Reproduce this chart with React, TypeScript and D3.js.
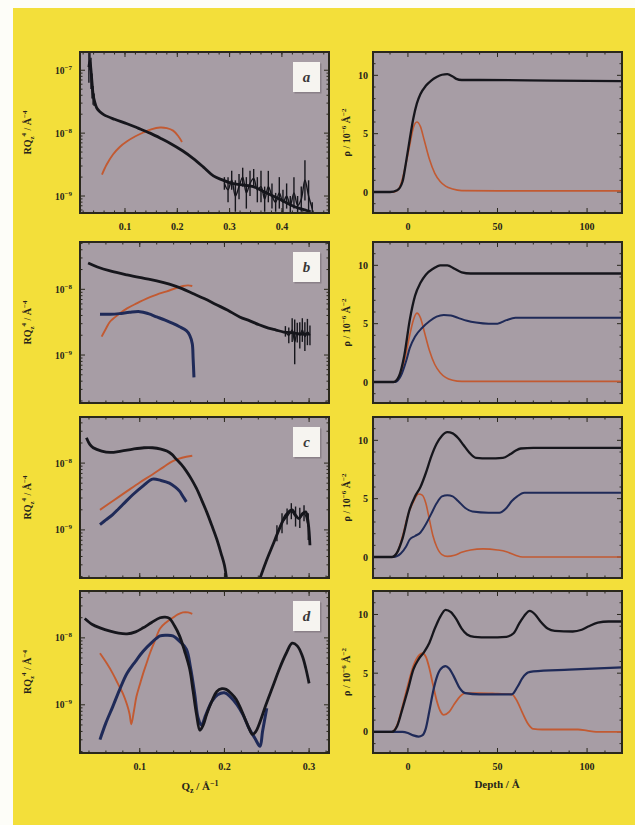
import { useEffect, useRef } from 'react';
import * as d3 from 'd3';

type Pt = [number, number];
type Err = [number, number, number];

// ---- reflectivity data: [Qz, log10(RQz^4)] ----
const aSpike: Err[] = [[0.031, -6.95, 0.25], [0.033, -6.85, 0.15], [0.035, -7.05, 0.25], [0.037, -7.25, 0.2], [0.039, -7.4, 0.15], [0.041, -7.47, 0.1]];
const aBlack: Pt[] = [[0.031, -6.95], [0.033, -6.85], [0.036, -7.1], [0.039, -7.38], [0.042, -7.5], [0.046, -7.6], [0.052, -7.66], [0.06, -7.71], [0.08, -7.78], [0.104, -7.85], [0.125, -7.92], [0.148, -8.0], [0.17, -8.09], [0.186, -8.16], [0.21, -8.28], [0.23, -8.4], [0.25, -8.54], [0.269, -8.68], [0.285, -8.74], [0.301, -8.79], [0.32, -8.82], [0.345, -8.85], [0.365, -8.93], [0.383, -9.0], [0.405, -9.09], [0.421, -9.16], [0.435, -9.2], [0.447, -9.23], [0.455, -9.25]];
const aNoise: Err[] = [[0.29, -8.8, 0.1], [0.297, -8.9, 0.2], [0.304, -8.75, 0.15], [0.311, -9.0, 0.25], [0.318, -8.85, 0.2], [0.325, -8.7, 0.15], [0.332, -8.95, 0.25], [0.339, -8.8, 0.2], [0.346, -8.72, 0.15], [0.353, -8.9, 0.2], [0.36, -8.85, 0.25], [0.367, -9.05, 0.2], [0.374, -8.85, 0.25], [0.381, -9.0, 0.2], [0.388, -9.1, 0.15], [0.395, -8.95, 0.25], [0.402, -9.1, 0.2], [0.409, -9.0, 0.2], [0.416, -9.15, 0.15], [0.423, -8.95, 0.25], [0.43, -9.15, 0.15], [0.437, -9.05, 0.2], [0.444, -8.75, 0.32], [0.451, -9.0, 0.25], [0.458, -9.2, 0.1]];
const aRed: Pt[] = [[0.056, -8.66], [0.065, -8.5], [0.077, -8.34], [0.09, -8.22], [0.104, -8.13], [0.12, -8.05], [0.135, -7.99], [0.15, -7.94], [0.167, -7.91], [0.18, -7.92], [0.192, -7.96], [0.202, -8.05], [0.209, -8.14]];

const bBlack: Pt[] = [[0.039, -7.6], [0.05, -7.66], [0.065, -7.72], [0.085, -7.78], [0.104, -7.83], [0.12, -7.87], [0.135, -7.92], [0.15, -7.99], [0.162, -8.06], [0.176, -8.14], [0.19, -8.23], [0.204, -8.32], [0.218, -8.42], [0.23, -8.48], [0.241, -8.54], [0.252, -8.59], [0.261, -8.62], [0.27, -8.65], [0.28, -8.66], [0.29, -8.68], [0.3, -8.68]];
const bNoise: Err[] = [[0.272, -8.64, 0.08], [0.276, -8.7, 0.12], [0.28, -8.62, 0.18], [0.283, -8.8, 0.34], [0.286, -8.66, 0.15], [0.289, -8.7, 0.2], [0.292, -8.62, 0.18], [0.295, -8.72, 0.22], [0.298, -8.65, 0.2], [0.301, -8.7, 0.15]];
const bRed: Pt[] = [[0.055, -8.72], [0.06, -8.6], [0.065, -8.49], [0.075, -8.38], [0.085, -8.29], [0.097, -8.21], [0.108, -8.14], [0.12, -8.08], [0.132, -8.03], [0.143, -7.98], [0.151, -7.95], [0.157, -7.94], [0.162, -7.95]];
const bBlue: Pt[] = [[0.053, -8.38], [0.065, -8.38], [0.076, -8.37], [0.088, -8.35], [0.1, -8.34], [0.11, -8.37], [0.12, -8.42], [0.13, -8.47], [0.139, -8.52], [0.147, -8.57], [0.155, -8.63], [0.159, -8.7], [0.162, -8.83], [0.163, -9.05], [0.164, -9.34]];

const cBlack1: Pt[] = [[0.037, -7.62], [0.041, -7.72], [0.045, -7.77], [0.055, -7.82], [0.065, -7.84], [0.078, -7.82], [0.092, -7.79], [0.105, -7.77], [0.115, -7.77], [0.125, -7.79], [0.132, -7.82], [0.138, -7.87], [0.143, -7.94], [0.149, -8.02], [0.155, -8.12], [0.161, -8.24], [0.167, -8.38], [0.173, -8.55], [0.179, -8.73], [0.185, -8.93], [0.191, -9.14], [0.196, -9.35], [0.2, -9.53], [0.203, -9.78]];
const cBlack2: Pt[] = [[0.241, -9.76], [0.249, -9.48], [0.257, -9.23], [0.265, -8.98], [0.273, -8.77], [0.28, -8.7], [0.284, -8.78], [0.288, -8.83], [0.292, -8.76], [0.296, -8.73], [0.299, -8.9], [0.301, -9.23]];
const cNoise: Err[] = [[0.262, -9.05, 0.12], [0.268, -8.9, 0.15], [0.274, -8.8, 0.12], [0.279, -8.72, 0.12], [0.284, -8.8, 0.15], [0.289, -8.82, 0.15], [0.294, -8.75, 0.12], [0.299, -8.95, 0.2]];
const cRed: Pt[] = [[0.053, -8.7], [0.069, -8.56], [0.085, -8.42], [0.1, -8.29], [0.115, -8.17], [0.128, -8.06], [0.139, -7.97], [0.15, -7.92], [0.162, -7.89]];
const cBlue: Pt[] = [[0.053, -8.92], [0.06, -8.85], [0.068, -8.77], [0.08, -8.62], [0.092, -8.47], [0.104, -8.34], [0.115, -8.24], [0.125, -8.26], [0.135, -8.3], [0.142, -8.36], [0.147, -8.42], [0.151, -8.5], [0.155, -8.58]];

const dBlack: Pt[] = [[0.035, -7.71], [0.044, -7.8], [0.053, -7.85], [0.065, -7.9], [0.075, -7.93], [0.085, -7.94], [0.095, -7.91], [0.104, -7.85], [0.114, -7.77], [0.124, -7.7], [0.13, -7.69], [0.135, -7.71], [0.141, -7.82], [0.147, -7.97], [0.153, -8.2], [0.159, -8.47], [0.163, -8.8], [0.167, -9.14], [0.171, -9.38], [0.175, -9.3], [0.179, -9.14], [0.185, -8.95], [0.191, -8.8], [0.197, -8.76], [0.202, -8.77], [0.208, -8.83], [0.214, -8.92], [0.22, -9.08], [0.225, -9.23], [0.229, -9.35], [0.233, -9.44], [0.237, -9.4], [0.241, -9.29], [0.249, -9.0], [0.257, -8.73], [0.265, -8.46], [0.273, -8.23], [0.28, -8.08], [0.286, -8.12], [0.292, -8.27], [0.296, -8.45], [0.3, -8.68]];
const dBlue: Pt[] = [[0.053, -9.52], [0.06, -9.27], [0.068, -9.03], [0.076, -8.78], [0.085, -8.53], [0.095, -8.35], [0.104, -8.2], [0.114, -8.07], [0.124, -7.97], [0.132, -7.96], [0.139, -7.97], [0.147, -8.05], [0.155, -8.17], [0.16, -8.45], [0.165, -8.85], [0.169, -9.2], [0.173, -9.3], [0.178, -9.15], [0.185, -8.95], [0.192, -8.85], [0.2, -8.82], [0.207, -8.88], [0.215, -9.0], [0.222, -9.15], [0.229, -9.35], [0.236, -9.5], [0.242, -9.62], [0.245, -9.4], [0.25, -9.05]];
const dRed: Pt[] = [[0.053, -8.23], [0.061, -8.38], [0.068, -8.53], [0.074, -8.68], [0.08, -8.83], [0.085, -9.0], [0.088, -9.14], [0.09, -9.29], [0.093, -9.1], [0.096, -8.88], [0.1, -8.7], [0.104, -8.53], [0.108, -8.38], [0.112, -8.23], [0.118, -8.04], [0.124, -7.86], [0.131, -7.77], [0.139, -7.7], [0.145, -7.65], [0.151, -7.62], [0.157, -7.62], [0.162, -7.64]];

// ---- SLD profiles: [depth / Å, rho / 1e-6 Å^-2] ----
const raBlack: Pt[] = [[-19.5, 0], [-10, 0], [-6, 0.15], [-3, 0.9], [-1, 2.6], [1, 4.5], [3, 6.3], [5, 7.6], [7, 8.4], [10, 9.1], [13, 9.55], [16, 9.85], [19, 10.05], [22, 10.1], [25, 9.9], [27, 9.7], [30, 9.6], [40, 9.6], [80, 9.55], [119.5, 9.5]];
const raRed: Pt[] = [[-19.5, 0], [-8, 0], [-5, 0.3], [-2, 1.8], [1, 4.0], [3, 5.5], [5, 6.0], [7, 5.6], [9, 4.5], [12, 2.8], [15, 1.6], [18, 0.9], [21, 0.5], [25, 0.25], [30, 0.12], [50, 0.1], [119.5, 0.1]];

const rbBlack: Pt[] = [[-19.5, 0], [-8, 0], [-5, 0.5], [-2, 2.3], [1, 5.3], [4, 7.4], [7, 8.5], [10, 9.2], [14, 9.7], [18, 10.0], [22, 10.0], [26, 9.7], [30, 9.4], [35, 9.3], [119.5, 9.3]];
const rbBlue: Pt[] = [[-19.5, 0], [-7, 0], [-4, 0.5], [-1, 1.8], [1, 2.9], [4, 3.9], [8, 4.65], [12, 5.2], [16, 5.6], [20, 5.75], [24, 5.7], [28, 5.5], [33, 5.25], [38, 5.1], [45, 5.0], [50, 5.0], [55, 5.3], [60, 5.5], [119.5, 5.5]];
const rbRed: Pt[] = [[-19.5, 0], [-8, 0], [-5, 0.3], [-2, 1.8], [1, 4.0], [3, 5.3], [5, 5.9], [7, 5.5], [9, 4.4], [12, 2.7], [15, 1.5], [18, 0.8], [21, 0.4], [25, 0.15], [30, 0.05], [119.5, 0.05]];

const rcBlack: Pt[] = [[-19.5, 0], [-9, 0], [-6, 0.4], [-3, 1.6], [1, 4.1], [4, 5.2], [7, 6.0], [10, 7.2], [13, 8.6], [16, 9.7], [19, 10.4], [22, 10.7], [25, 10.6], [28, 10.2], [31, 9.6], [34, 9.0], [38, 8.5], [45, 8.45], [53, 8.5], [57, 8.8], [60, 9.1], [63, 9.3], [70, 9.35], [119.5, 9.35]];
const rcBlue: Pt[] = [[-19.5, 0], [-8, 0], [-4, 0.3], [-1, 0.9], [1, 1.5], [4, 1.8], [7, 2.1], [10, 2.8], [13, 3.7], [16, 4.6], [19, 5.2], [22, 5.3], [25, 5.2], [28, 4.8], [32, 4.2], [36, 3.9], [45, 3.8], [51, 3.8], [55, 4.2], [58, 4.8], [61, 5.2], [65, 5.5], [119.5, 5.5]];
const rcRed: Pt[] = [[-19.5, 0], [-9, 0], [-6, 0.4], [-3, 1.8], [0, 3.6], [3, 4.7], [6, 5.4], [8, 5.3], [10, 4.6], [12, 3.2], [14, 1.8], [16, 0.9], [19, 0.2], [22, 0.05], [26, 0.15], [30, 0.4], [35, 0.6], [42, 0.7], [50, 0.6], [55, 0.45], [60, 0.15], [64, 0.0], [119.5, 0.0]];

const rdBlack: Pt[] = [[-19.5, 0], [-9, 0], [-6, 0.5], [-3, 2.0], [0, 3.6], [3, 5.3], [6, 6.2], [9, 6.8], [12, 7.6], [15, 8.8], [18, 9.8], [21, 10.4], [24, 10.2], [27, 9.6], [30, 8.8], [33, 8.3], [37, 8.1], [45, 8.05], [55, 8.1], [59, 8.4], [62, 9.2], [65, 9.9], [68, 10.3], [71, 10.0], [74, 9.4], [78, 8.8], [82, 8.6], [92, 8.55], [97, 8.7], [101, 9.0], [106, 9.3], [112, 9.4], [119.5, 9.4]];
const rdRed: Pt[] = [[-19.5, 0], [-9, 0], [-6, 0.6], [-3, 2.2], [0, 4.0], [3, 5.6], [6, 6.5], [8, 6.7], [10, 6.4], [12, 5.4], [14, 4.0], [16, 2.7], [18, 1.8], [20, 1.45], [23, 1.7], [26, 2.4], [29, 3.0], [32, 3.3], [40, 3.3], [50, 3.25], [58, 3.2], [61, 2.6], [64, 1.6], [67, 0.7], [70, 0.25], [75, 0.2], [95, 0.2], [100, 0.1], [105, 0.0], [119.5, 0.0]];
const rdBlue: Pt[] = [[-19.5, 0], [-3, 0], [0, -0.1], [3, -0.3], [6, -0.4], [8, -0.3], [10, 0.3], [12, 1.8], [14, 3.4], [16, 4.6], [18, 5.3], [21, 5.6], [23, 5.4], [26, 4.6], [29, 3.7], [32, 3.3], [40, 3.2], [50, 3.2], [58, 3.2], [61, 3.8], [64, 4.6], [67, 5.05], [70, 5.15], [90, 5.3], [119.5, 5.5]];

const panelLetters = ['a', 'b', 'c', 'd'];
const qTicksA = [0.1, 0.2, 0.3, 0.4];
const qTicks = [0.1, 0.2, 0.3];
const depthTicks = [0, 50, 100];
const rhoTicks = [0, 5, 10];

const YELLOW = '#f3df3a';
const PLOT_BG = '#a79da5';
const FRAME = '#2a281c';
const BLACK = '#16161c';
const RED = '#c25a32';
const BLUE = '#1f2a58';
const FONT = '"Liberation Serif", "DejaVu Serif", serif';

export default function App() {
  const svgRef = useRef<SVGSVGElement>(null);

  useEffect(() => {
    if (!svgRef.current) return;
    const svg = d3.select(svgRef.current);
    svg.selectAll('*').remove();

    const leftX: [number, number] = [80, 329];
    const rightX: [number, number] = [373, 622];
    const rows: [number, number][] = [[52, 213], [242, 403], [417, 578], [591, 753]];

    svg.append('rect').attr('width', 635).attr('height', 825).attr('fill', '#fdfdf8');
    svg.append('rect').attr('x', 13).attr('y', 8).attr('width', 622).attr('height', 817).attr('fill', YELLOW);

    const left = [
      { black: [aBlack], red: aRed, blue: null as Pt[] | null, noise: [aSpike, aNoise], xd: [0.014, 0.49], yd: [-9.27, -6.71], ylab: [-7, -8, -9], xt: qTicksA },
      { black: [bBlack], red: bRed, blue: bBlue, noise: [bNoise], xd: [0.0294, 0.3235], yd: [-9.73, -7.28], ylab: [-8, -9], xt: qTicks },
      { black: [cBlack1, cBlack2], red: cRed, blue: cBlue, noise: [cNoise], xd: [0.0294, 0.3235], yd: [-9.72, -7.31], ylab: [-8, -9], xt: qTicks },
      { black: [dBlack], red: dRed, blue: dBlue, noise: [] as Err[][], xd: [0.0294, 0.3235], yd: [-9.72, -7.3], ylab: [-8, -9], xt: qTicks },
    ];
    const right = [
      { lines: [[raRed, RED, 1.6], [raBlack, BLACK, 2.3]] },
      { lines: [[rbRed, RED, 1.6], [rbBlue, BLUE, 2], [rbBlack, BLACK, 2.3]] },
      { lines: [[rcRed, RED, 1.6], [rcBlue, BLUE, 2], [rcBlack, BLACK, 2.3]] },
      { lines: [[rdRed, RED, 1.8], [rdBlue, BLUE, 2.2], [rdBlack, BLACK, 2.3]] },
    ];

    const txt = (g: any, x: number, y: number, anchor: string, size = 10) =>
      g.append('text').attr('x', x).attr('y', y).attr('text-anchor', anchor)
        .attr('font-family', FONT).attr('font-weight', 'bold').attr('font-size', size).attr('fill', '#26241a');

    const frame = (g: any, x: any, y: any, xMaj: number[], xMin: number[], yMaj: number[], yMin: number[]) => {
      const [x0, x1] = x.range();
      const [y0, y1] = y.range();
      g.append('rect').attr('x', x0).attr('y', y1).attr('width', x1 - x0).attr('height', y0 - y1)
        .attr('fill', PLOT_BG);
      const t = g.append('g').attr('stroke', FRAME).attr('stroke-width', 1);
      const tick = (vals: number[], len: number, axis: 'x' | 'y') => {
        vals.forEach(v => {
          if (axis === 'x') {
            const p = x(v);
            t.append('line').attr('x1', p).attr('x2', p).attr('y1', y0).attr('y2', y0 - len);
            t.append('line').attr('x1', p).attr('x2', p).attr('y1', y1).attr('y2', y1 + len);
          } else {
            const p = y(v);
            t.append('line').attr('y1', p).attr('y2', p).attr('x1', x0).attr('x2', x0 + len);
            t.append('line').attr('y1', p).attr('y2', p).attr('x1', x1).attr('x2', x1 - len);
          }
        });
      };
      tick(xMaj, 5, 'x'); tick(xMin, 2.5, 'x');
      tick(yMaj, 5, 'y'); tick(yMin, 2.5, 'y');
    };

    const frameBorder = (g: any, x: any, y: any) => {
      const [x0, x1] = x.range();
      const [y0, y1] = y.range();
      g.append('rect').attr('x', x0).attr('y', y1).attr('width', x1 - x0).attr('height', y0 - y1)
        .attr('fill', 'none').attr('stroke', FRAME).attr('stroke-width', 2);
    };

    const supLabel = (g: any, x: number, y: number, exp: number) => {
      const t = txt(g, x, y, 'end', 9.5);
      t.append('tspan').text('10');
      t.append('tspan').attr('dy', -4).attr('font-size', 7).text(`\u2212${-exp}`);
    };

    // ---- left: reflectivity panels ----
    left.forEach((p, i) => {
      const [top, bot] = rows[i];
      const x = d3.scaleLinear().domain(p.xd).range(leftX);
      const y = d3.scaleLog().domain([10 ** p.yd[0], 10 ** p.yd[1]]).range([bot, top]);
      const g = svg.append('g');
      const xMin = d3.range(0, 0.5, 0.02).filter(v => v > p.xd[0] && v < p.xd[1]);
      const yMaj: number[] = [];
      const yMin: number[] = [];
      for (let e = -10; e <= -6; e++) {
        for (let k = 1; k < 10; k++) {
          const v = k * 10 ** e;
          if (Math.log10(v) < p.yd[0] || Math.log10(v) > p.yd[1]) continue;
          (k === 1 ? yMaj : yMin).push(v);
        }
      }
      frame(g, x, y, p.xt, xMin, yMaj, yMin);

      const clipId = `clipL${i}`;
      g.append('clipPath').attr('id', clipId).append('rect')
        .attr('x', leftX[0]).attr('y', top).attr('width', leftX[1] - leftX[0]).attr('height', bot - top);
      const pg = g.append('g').attr('clip-path', `url(#${clipId})`);
      const line = d3.line<Pt>().x(d => x(d[0])).y(d => y(10 ** d[1])).curve(d3.curveCatmullRom);

      pg.append('path').attr('d', line(p.red)).attr('fill', 'none').attr('stroke', RED).attr('stroke-width', 1.9);
      if (p.blue) {
        pg.append('path').attr('d', line(p.blue)).attr('fill', 'none').attr('stroke', BLUE).attr('stroke-width', 3);
      }
      p.black.forEach(b => {
        pg.append('path').attr('d', line(b)).attr('fill', 'none').attr('stroke', BLACK).attr('stroke-width', 2.8);
      });
      p.noise.forEach(ns => {
        pg.append('g').selectAll('line').data(ns).join('line')
          .attr('x1', d => x(d[0])).attr('x2', d => x(d[0]))
          .attr('y1', d => y(10 ** (d[1] - d[2]))).attr('y2', d => y(10 ** (d[1] + d[2])))
          .attr('stroke', BLACK).attr('stroke-width', 1.4);
        pg.append('path').attr('d', line(ns.map(d => [d[0], d[1]] as Pt)))
          .attr('fill', 'none').attr('stroke', BLACK).attr('stroke-width', 1.4);
      });
      frameBorder(g, x, y);

      // y tick labels
      p.ylab.forEach(e => supLabel(g, 72, y(10 ** e) + 3.5, e));
      if (i === 0 || i === 3) {
        p.xt.forEach(v => txt(g, x(v), bot + 17, 'middle', 10).text(String(v)));
      }
      // axis title
      const cy = (top + bot) / 2;
      const yt = txt(g, 0, 0, 'middle', 10).attr('transform', `translate(31,${cy}) rotate(-90)`);
      yt.append('tspan').text('RQ');
      yt.append('tspan').attr('dy', 3).attr('font-size', 7).text('z');
      yt.append('tspan').attr('dy', -8).attr('font-size', 7).text('4');
      yt.append('tspan').attr('dy', 5).text(' / \u00c5');
      yt.append('tspan').attr('dy', -4).attr('font-size', 7).text('\u22124');

      // panel letter box
      const bx = leftX[1] - 36, by = top + 10;
      g.append('rect').attr('x', bx + 1.5).attr('y', by + 1.5).attr('width', 27).attr('height', 30).attr('fill', '#8a8088');
      g.append('rect').attr('x', bx).attr('y', by).attr('width', 27).attr('height', 30).attr('fill', '#f6f4f0');
      g.append('text').attr('x', bx + 13.5).attr('y', by + 20).attr('text-anchor', 'middle')
        .attr('font-family', FONT).attr('font-style', 'italic').attr('font-weight', 'bold')
        .attr('font-size', 15).attr('fill', '#3a3838').text(panelLetters[i]);
    });

    // ---- right: SLD profiles ----
    right.forEach((p, i) => {
      const [top, bot] = rows[i];
      const x = d3.scaleLinear().domain([-19.5, 119.5]).range(rightX);
      const y = d3.scaleLinear().domain([-1.8, 12.0]).range([bot, top]);
      const g = svg.append('g');
      frame(g, x, y, depthTicks, d3.range(-10, 120, 10).filter(v => v % 50 !== 0), rhoTicks,
        d3.range(-1, 12, 1).filter(v => v % 5 !== 0));
      const clipId = `clipR${i}`;
      g.append('clipPath').attr('id', clipId).append('rect')
        .attr('x', rightX[0]).attr('y', top).attr('width', rightX[1] - rightX[0]).attr('height', bot - top);
      const pg = g.append('g').attr('clip-path', `url(#${clipId})`);
      const line = d3.line<Pt>().x(d => x(d[0])).y(d => y(d[1])).curve(d3.curveMonotoneX);
      p.lines.forEach(([data, color, w]) => {
        pg.append('path').attr('d', line(data as Pt[])).attr('fill', 'none')
          .attr('stroke', color as string).attr('stroke-width', w as number);
      });
      frameBorder(g, x, y);
      rhoTicks.forEach(v => txt(g, 368, y(v) + 3.5, 'end', 10).text(String(v)));
      if (i === 0 || i === 3) {
        depthTicks.forEach(v => txt(g, x(v), bot + 17, 'middle', 10).text(String(v)));
      }
      const cy = (top + bot) / 2;
      const yt = txt(g, 0, 0, 'middle', 10).attr('transform', `translate(350,${cy}) rotate(-90)`);
      yt.append('tspan').text('\u03c1 / 10');
      yt.append('tspan').attr('dy', -4).attr('font-size', 7).text('\u22126');
      yt.append('tspan').attr('dy', 4).text(' \u00c5');
      yt.append('tspan').attr('dy', -4).attr('font-size', 7).text('\u22122');
    });

    // bottom axis titles
    const qt = txt(svg, 200, 790, 'middle', 11);
    qt.append('tspan').text('Q');
    qt.append('tspan').attr('dy', 3).attr('font-size', 8).text('z');
    qt.append('tspan').attr('dy', -3).text(' / \u00c5');
    qt.append('tspan').attr('dy', -4).attr('font-size', 8).text('\u22121');
    txt(svg, 497, 788, 'middle', 11).text('Depth / \u00c5');
  }, []);

  return (
    <svg ref={svgRef} width={635} height={825}
      style={{ position: 'absolute', left: 0, top: 0, display: 'block' }} />
  );
}
